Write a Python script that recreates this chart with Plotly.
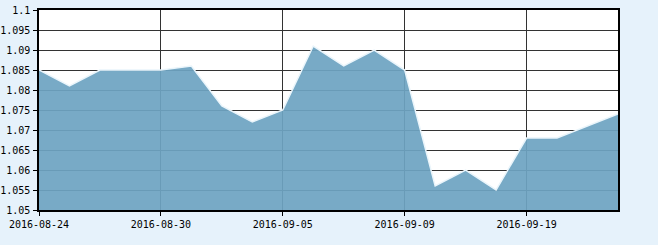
import plotly.graph_objects as go

dates = ["2016-08-24", "2016-08-25", "2016-08-26", "2016-08-29", "2016-08-30",
         "2016-08-31", "2016-09-01", "2016-09-02", "2016-09-05", "2016-09-06",
         "2016-09-07", "2016-09-08", "2016-09-09", "2016-09-12", "2016-09-13",
         "2016-09-14", "2016-09-19", "2016-09-20", "2016-09-21", "2016-09-22"]
values = [1.085, 1.081, 1.085, 1.085, 1.085,
          1.086, 1.076, 1.072, 1.075, 1.091,
          1.086, 1.090, 1.085, 1.056, 1.060,
          1.055, 1.068, 1.068, 1.071, 1.074]
x_ticks = ["2016-08-24", "2016-08-30", "2016-09-05", "2016-09-09", "2016-09-19"]
y_ticks = [1.05, 1.055, 1.06, 1.065, 1.07, 1.075, 1.08, 1.085, 1.09, 1.095, 1.1]
y_labels = ["1.05", "1.055", "1.06", "1.065", "1.07", "1.075", "1.08", "1.085", "1.09", "1.095", "1.1"]

fig = go.Figure()
fig.add_trace(go.Scatter(
    x=dates, y=values, mode="lines", fill="tozeroy",
    line=dict(color="#EAF5FB", width=1.5),
    fillcolor="rgba(110,164,194,0.93)",
    hoverinfo="skip",
))

font = dict(family="DejaVu Sans Mono", size=10, color="#000000")
fig.update_layout(
    width=658, height=245,
    margin=dict(l=39, r=40, t=10, b=35),
    paper_bgcolor="#E6F2FB",
    plot_bgcolor="#FFFFFF",
    showlegend=False,
    font=font,
    xaxis=dict(
        type="category", range=[0, len(dates) - 1],
        tickmode="array", tickvals=x_ticks, ticktext=x_ticks,
        showgrid=True, gridcolor="#333333", gridwidth=1,
        showline=True, linecolor="#000000", linewidth=1.5, mirror=True,
        ticks="outside", ticklen=4, tickcolor="#000000",
        tickfont=font, zeroline=False, automargin=False,
    ),
    yaxis=dict(
        range=[1.05, 1.1],
        tickmode="array", tickvals=y_ticks, ticktext=y_labels,
        showgrid=True, gridcolor="#333333", gridwidth=1,
        showline=True, linecolor="#000000", linewidth=1.5, mirror=True,
        ticks="outside", ticklen=4, tickcolor="#000000", ticklabelstandoff=1,
        tickfont=font, zeroline=False, automargin=False,
    ),
)

fig.write_html("out.html")
